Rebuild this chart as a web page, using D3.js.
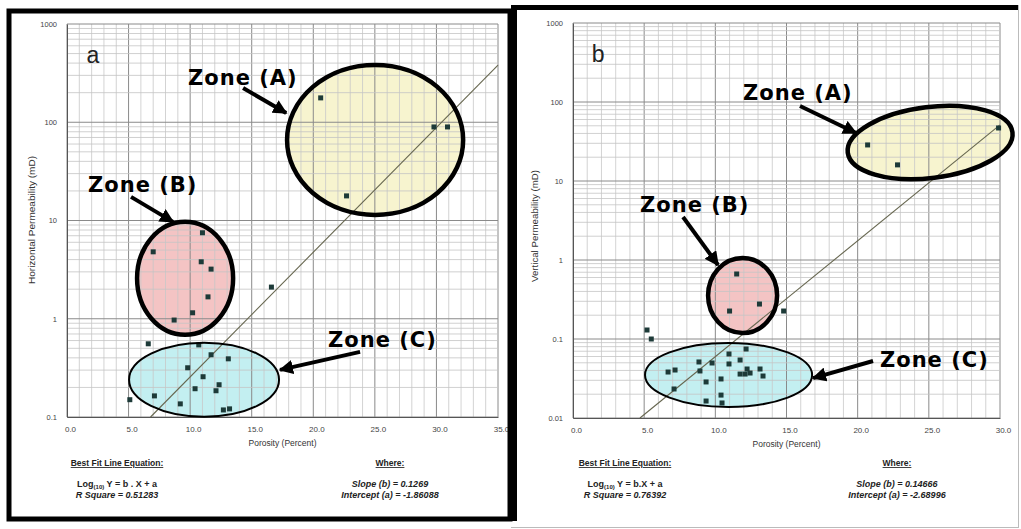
<!DOCTYPE html>
<html><head><meta charset="utf-8">
<script src="https://cdn.jsdelivr.net/npm/d3@7"></script>
<style>
html,body{margin:0;padding:0;background:#fff;}
svg{display:block;font-family:"Liberation Sans",Arial,sans-serif;}
</style></head>
<body>
<svg id="chart" width="1021" height="529"></svg>
<script>
// ---------- DATA ----------
// Panel a: porosity (%) vs horizontal permeability (mD)
const aPorosity = [20.6, 22.7, 29.8, 30.9,
  11.0, 7.0, 10.9, 11.7, 11.45, 10.2, 8.7, 16.6,
  6.6, 10.7, 11.7, 13.1, 9.8, 11.05, 10.4, 12.35, 12.1, 7.1, 5.1, 9.2, 12.7, 13.2];
const aPerm = [177, 17.8, 89.6, 89.6,
  7.5, 4.8, 3.8, 3.2, 1.67, 1.15, 0.97, 2.1,
  0.556, 0.542, 0.43, 0.391, 0.317, 0.257, 0.194, 0.213, 0.185, 0.164, 0.150, 0.136, 0.118, 0.121];
// Panel b: porosity (%) vs vertical permeability (mD)
const bPorosity = [20.7, 22.8, 29.9,
  11.5, 11.0, 13.1, 14.8, 5.2, 5.5,
  12.16, 10.96, 11.74, 8.85, 9.77, 10.96, 8.92, 6.68, 7.17, 12.23, 13.14, 11.74, 12.09, 12.44, 13.35, 9.35, 10.40, 7.10, 10.40, 9.35, 10.47];
const bPerm = [28.6, 16.0, 46.9,
  0.665, 0.226, 0.277, 0.226, 0.13, 0.10,
  0.0747, 0.0646, 0.0542, 0.0512, 0.0497, 0.0483, 0.0394, 0.0382, 0.0405, 0.0417, 0.0417, 0.036, 0.036, 0.0371, 0.034, 0.0286, 0.0312, 0.0233, 0.0195, 0.0164, 0.0155];

const aXTicks = [0, 5, 10, 15, 20, 25, 30, 35];
const bXTicks = [0, 5, 10, 15, 20, 25, 30];
const aYTicks = [0.1, 1, 10, 100, 1000];
const bYTicks = [0.01, 0.1, 1, 10, 100, 1000];

const aFit = {slope: 0.1269, intercept: -1.86088, r2: "0.51283"};
const bFit = {slope: 0.14666, intercept: -2.68996, r2: "0.76392"};

// zone ellipses as data bounds [x0, x1, y0, y1]
const aZones = [
  {name: "A", box: [17.87, 32.17, 11.4, 383], fill: "#f7f4cf", sw: 4.5, rot: 0},
  {name: "B", box: [5.69, 13.49, 0.686, 9.7], fill: "#f4c4c4", sw: 4.5, rot: 0},
  {name: "C", box: [5.04, 17.22, 0.1005, 0.569], fill: "#c3eff1", sw: 2, rot: 0}
];
const bZones = [
  {name: "A", box: [19.26, 30.92, 10.9, 86.5], fill: "#f7f4cf", sw: 4.5, rot: -7},
  {name: "B", box: [9.49, 14.34, 0.119, 1.06], fill: "#f4c4c4", sw: 4.5, rot: 0},
  {name: "C", box: [5.06, 16.80, 0.0138, 0.089], fill: "#c3eff1", sw: 2, rot: 0}
];
// zone labels: text anchor (start, baseline) and arrow from -> to, in data units
const aLabels = [
  {t: "Zone (A)", at: [9.83, 239], from: [14.3, 223], to: [17.8, 124]},
  {t: "Zone (B)", at: [1.71, 19.5], from: [5.2, 17.4], to: [8.61, 9.68]},
  {t: "Zone (C)", at: [21.2, 0.518], from: [23.8, 0.46], to: [17.3, 0.302]}
];
const bLabels = [
  {t: "Zone (A)", at: [11.95, 106], from: [15.95, 89], to: [19.89, 40.5]},
  {t: "Zone (B)", at: [4.71, 4.05], from: [7.73, 3.5], to: [10.19, 0.865]},
  {t: "Zone (C)", at: [21.57, 0.0442], from: [21.08, 0.0527], to: [16.87, 0.032]}
];

// ---------- DRAW ----------
const svg = d3.select("#chart");
const defs = svg.append("defs");
defs.append("marker").attr("id", "ah").attr("viewBox", "0 0 10 10")
  .attr("refX", 9).attr("refY", 5).attr("markerWidth", 3.6).attr("markerHeight", 3.6)
  .attr("markerUnits", "strokeWidth").attr("orient", "auto")
  .append("path").attr("d", "M0,0 L10,5 L0,10 Z").attr("fill", "#000");

function panel(cfg) {
  const g = svg.append("g");
  const x = d3.scaleLinear().domain(cfg.xDomain).range(cfg.xRange);
  const y = d3.scaleLog().domain(cfg.yDomain).range(cfg.yRange);
  const [x0, x1] = cfg.xRange, [yb, yt] = cfg.yRange;

  g.append("rect").attr("x", x0).attr("y", yt).attr("width", x1 - x0).attr("height", yb - yt).attr("fill", "#fff");

  // white box behind panel letter
  const lb = cfg.letterBox;
  g.append("rect").attr("x", x(lb[0])).attr("y", y(lb[3]))
    .attr("width", x(lb[1]) - x(lb[0])).attr("height", y(lb[2]) - y(lb[3])).attr("fill", "#fff");

  // zone fills
  const zones = g.append("g");
  cfg.zones.forEach(z => {
    const cx = (x(z.box[0]) + x(z.box[1])) / 2, cy = (y(z.box[2]) + y(z.box[3])) / 2;
    const rx = (x(z.box[1]) - x(z.box[0])) / 2, ry = (y(z.box[2]) - y(z.box[3])) / 2;
    z.px = {cx, cy, rx, ry};
    zones.append("ellipse").attr("cx", cx).attr("cy", cy).attr("rx", rx).attr("ry", ry)
      .attr("transform", `rotate(${z.rot},${cx},${cy})`).attr("fill", z.fill);
  });

  // grid
  const grid = g.append("g");
  const xs = d3.range(cfg.xDomain[0], cfg.xDomain[1] + 0.01, 1);
  xs.forEach(v => {
    const major = v % 5 === 0;
    grid.append("line").attr("x1", x(v)).attr("x2", x(v)).attr("y1", yt).attr("y2", yb)
      .attr("stroke", major ? "#8a8a8a" : "#c8c8c8").attr("stroke-width", major ? 1 : 0.8);
  });
  const ys = [];
  const lo = Math.round(Math.log10(cfg.yDomain[0])), hi = Math.round(Math.log10(cfg.yDomain[1]));
  for (let e = lo; e < hi; e++) for (let k = 1; k <= 9; k++) ys.push({v: k * Math.pow(10, e), major: k === 1});
  ys.push({v: Math.pow(10, hi), major: true});
  ys.forEach(o => {
    grid.append("line").attr("x1", x0).attr("x2", x1).attr("y1", y(o.v)).attr("y2", y(o.v))
      .attr("stroke", o.major ? "#8a8a8a" : "#c4c4c4").attr("stroke-width", o.major ? 1 : 0.8);
  });

  // axes
  const ax = g.append("g").attr("transform", `translate(0,${yb})`)
    .call(d3.axisBottom(x).tickValues(cfg.xTicks).tickSize(0).tickPadding(9).tickFormat(d3.format(".1f")));
  ax.select(".domain").attr("stroke", "#555");
  ax.selectAll("text").attr("font-size", 8).attr("fill", "#444").attr("dx", 3);
  const ay = g.append("g").attr("transform", `translate(${x0},0)`)
    .call(d3.axisLeft(y).tickValues(cfg.yTicks).tickSize(0).tickPadding(cfg.yPad).tickFormat(d => String(d)));
  ay.select(".domain").attr("stroke", "#555");
  ay.selectAll("text").attr("font-size", 7.5).attr("fill", "#444");

  // fit line
  const f = cfg.fit;
  const xStart = (Math.log10(cfg.yDomain[0]) - f.intercept) / f.slope;
  const xEnd = Math.min(cfg.xDomain[1], (Math.log10(cfg.yDomain[1]) - f.intercept) / f.slope);
  const fitPts = [xStart, xEnd].map(v => [v, Math.pow(10, f.slope * v + f.intercept)]);
  g.append("path").attr("d", d3.line().x(d => x(d[0])).y(d => y(d[1]))(fitPts))
    .attr("stroke", "#66664f").attr("stroke-width", 1.1).attr("fill", "none");

  // points
  g.append("g").selectAll("rect").data(cfg.px.map((v, i) => [v, cfg.py[i]])).join("rect")
    .attr("x", d => x(d[0]) - 2.5).attr("y", d => y(d[1]) - 2.5).attr("width", 5).attr("height", 5)
    .attr("fill", "#1d3a38");

  // zone outlines
  cfg.zones.forEach(z => {
    const p = z.px;
    g.append("ellipse").attr("cx", p.cx).attr("cy", p.cy).attr("rx", p.rx).attr("ry", p.ry)
      .attr("transform", `rotate(${z.rot},${p.cx},${p.cy})`)
      .attr("fill", "none").attr("stroke", "#000").attr("stroke-width", z.sw);
  });

  // zone labels and arrows
  cfg.labels.forEach(l => {
    g.append("line").attr("x1", x(l.from[0])).attr("y1", y(l.from[1]))
      .attr("x2", x(l.to[0])).attr("y2", y(l.to[1]))
      .attr("stroke", "#000").attr("stroke-width", 4).attr("marker-end", "url(#ah)");
    g.append("text").attr("x", x(l.at[0])).attr("y", y(l.at[1])).text(l.t)
      .attr("font-family", "'DejaVu Sans',sans-serif").attr("font-weight", "bold")
      .attr("font-size", 21).attr("letter-spacing", 1).attr("fill", "#000");
  });

  // panel letter
  g.append("text").attr("x", x(cfg.letterAt[0])).attr("y", y(cfg.letterAt[1]))
    .attr("text-anchor", "middle").attr("font-size", 23).attr("fill", "#222").text(cfg.letter);

  // axis titles
  g.append("text").attr("x", (x0 + x1) / 2 + cfg.xTitleDx).attr("y", yb + 29)
    .attr("text-anchor", "middle").attr("font-size", 8.5).attr("fill", "#333").text("Porosity (Percent)");
  g.append("text").attr("transform", `translate(${cfg.yTitlePos[0]},${cfg.yTitlePos[1]}) rotate(-90)`)
    .attr("text-anchor", "middle").attr("font-size", 9).attr("fill", "#333")
    .attr("textLength", cfg.yTitleLen).attr("lengthAdjust", "spacingAndGlyphs").text(cfg.yTitle);

  // footer
  const ft = g.append("g").attr("fill", "#222").attr("font-weight", "bold").attr("font-size", 8.5);
  ft.append("text").attr("x", cfg.footL).attr("y", 466).attr("text-anchor", "middle")
    .attr("text-decoration", "underline").text("Best Fit Line Equation:");
  ft.append("text").attr("x", cfg.footR).attr("y", 466).attr("text-anchor", "middle")
    .attr("text-decoration", "underline").text("Where:");
  const eq = ft.append("text").attr("x", cfg.footL).attr("y", 487).attr("text-anchor", "middle").attr("font-size", 9);
  eq.append("tspan").text("Log");
  eq.append("tspan").attr("font-size", 6).attr("dy", 2).text("(10)");
  eq.append("tspan").attr("dy", -2).text(cfg.eqText);
  ft.append("text").attr("x", cfg.footL).attr("y", 498).attr("text-anchor", "middle").attr("font-style", "italic")
    .attr("font-size", 9).text("R Square = " + f.r2);
  ft.append("text").attr("x", cfg.footR).attr("y", 487).attr("text-anchor", "middle").attr("font-style", "italic")
    .attr("font-size", 9).text("Slope (b) = " + f.slope);
  ft.append("text").attr("x", cfg.footR).attr("y", 498).attr("text-anchor", "middle").attr("font-style", "italic")
    .attr("font-size", 9).text("Intercept (a) = " + f.intercept);
}

panel({
  xDomain: [0, 35], xRange: [67, 498], yDomain: [0.1, 1000], yRange: [417, 24],
  xTicks: aXTicks, yTicks: aYTicks, yPad: 10, fit: aFit, px: aPorosity, py: aPerm,
  zones: aZones, labels: aLabels, letter: "a", letterAt: [2.1, 401], letterBox: [0.89, 3.49, 257, 810],
  xTitleDx: 0, yTitle: "Horizontal Permeability (mD)", yTitlePos: [35, 220], yTitleLen: 128,
  footL: 117, footR: 390, eqText: " Y = b . X + a"
});
panel({
  xDomain: [0, 30], xRange: [573, 1000], yDomain: [0.01, 1000], yRange: [418, 23],
  xTicks: bXTicks, yTicks: bYTicks, yPad: 10, fit: bFit, px: bPorosity, py: bPerm,
  zones: bZones, labels: bLabels, letter: "b", letterAt: [1.76, 321], letterBox: [0.28, 3.30, 207, 746],
  xTitleDx: 0, yTitle: "Vertical Permeability (mD)", yTitlePos: [538, 226], yTitleLen: 112,
  footL: 625, footR: 897, eqText: " Y = b.X + a"
});

// panel frames
svg.append("rect").attr("x", 9).attr("y", 11).attr("width", 501).attr("height", 508)
  .attr("fill", "none").attr("stroke", "#000").attr("stroke-width", 5);
svg.append("line").attr("x1", 514).attr("x2", 514).attr("y1", 5).attr("y2", 521)
  .attr("stroke", "#000").attr("stroke-width", 6);
svg.append("line").attr("x1", 511).attr("x2", 1019).attr("y1", 7.5).attr("y2", 7.5)
  .attr("stroke", "#000").attr("stroke-width", 5);
svg.append("line").attr("x1", 1018.5).attr("x2", 1018.5).attr("y1", 5).attr("y2", 527)
  .attr("stroke", "#bbb").attr("stroke-width", 1);
svg.append("line").attr("x1", 511).attr("x2", 1019).attr("y1", 527.5).attr("y2", 527.5)
  .attr("stroke", "#bbb").attr("stroke-width", 1);
</script>
</body></html>
